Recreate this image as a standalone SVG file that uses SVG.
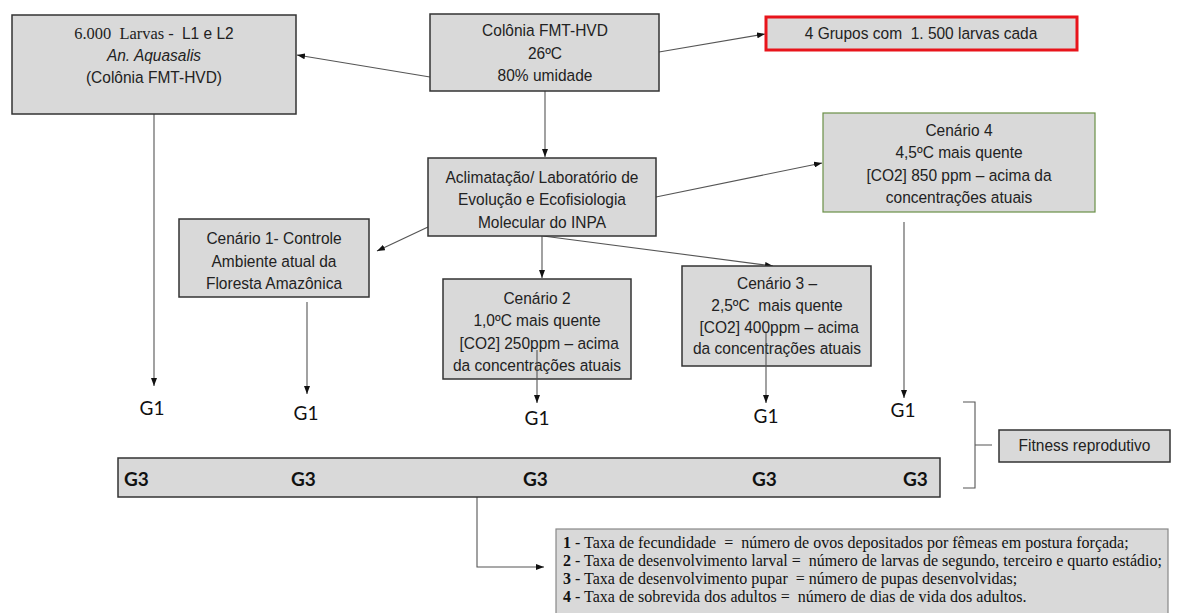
<svg xmlns="http://www.w3.org/2000/svg" width="1183" height="613" viewBox="0 0 1183 613">
<style>
text{white-space:pre}
.box{fill:#d9d9d9;stroke:#333;stroke-width:1.5}
.t{font-family:"Liberation Sans",Arial,sans-serif;font-size:16.5px;fill:#222;text-anchor:middle}
.g{font-family:Lato,"Open Sans",sans-serif;font-size:19px;fill:#111;text-anchor:middle}
.g3{font-family:Lato,"Open Sans",sans-serif;font-size:19px;font-weight:bold;fill:#111}
.c{fill:none;stroke:#555;stroke-width:1.1}
.leg{font-family:"Liberation Serif","Times New Roman",serif;font-size:16px;fill:#111}
</style>
<defs>
<marker id="ah" markerWidth="8" markerHeight="6" refX="8" refY="3" orient="auto" markerUnits="userSpaceOnUse">
<path d="M0,0 L8,3 L0,6 z" fill="#111"/>
</marker>
</defs>
<rect width="1183" height="613" fill="#fff"/>

<g id="connectors">
<line class="c" x1="430" y1="77" x2="297" y2="55" marker-end="url(#ah)"/>
<line class="c" x1="659" y1="52" x2="765" y2="34" marker-end="url(#ah)"/>
<line class="c" x1="545" y1="91" x2="545" y2="157" marker-end="url(#ah)"/>
<line class="c" x1="656" y1="197" x2="822" y2="163" marker-end="url(#ah)"/>
<line class="c" x1="543" y1="236" x2="773" y2="266" marker-end="url(#ah)"/>
<line class="c" x1="542" y1="236" x2="542" y2="278" marker-end="url(#ah)"/>
<line class="c" x1="428" y1="227" x2="377" y2="251" marker-end="url(#ah)"/>
<line class="c" x1="154" y1="114" x2="154" y2="386" marker-end="url(#ah)"/>
<line class="c" x1="307" y1="302" x2="307" y2="394" marker-end="url(#ah)"/>
<line class="c" x1="904" y1="222" x2="904" y2="398" marker-end="url(#ah)"/>
<path class="c" d="M477,497 V567 H544" marker-end="url(#ah)"/>
<path class="c" d="M963,402 H975 V488 H963 M975,445 H992"/>
</g>

<g id="larvas">
<rect class="box" x="12" y="15" width="284" height="99"/>
<g transform="translate(9.24,0) scale(0.94,1)">
<text class="t" x="154" y="39"><tspan font-family="Liberation Serif,serif" font-size="17.5px">6.000  Larvas -  </tspan>L1 e L2</text>
<text class="t" x="154" y="61" font-style="italic">An. Aquasalis</text>
<text class="t" x="154" y="83">(Colônia FMT-HVD)</text>
</g>
</g>

<g id="colonia">
<rect class="box" x="430" y="14" width="229" height="77"/>
<g transform="translate(32.7,0) scale(0.94,1)">
<text class="t" x="545" y="36">Colônia FMT-HVD</text>
<text class="t" x="545" y="59">26ºC</text>
<text class="t" x="545" y="81">80% umidade</text>
</g>
</g>

<g id="grupos">
<rect x="766" y="17" width="311" height="33" fill="#d9d9d9" stroke="#e8141b" stroke-width="3"/>
<g transform="translate(55.26,0) scale(0.94,1)">
<text class="t" x="921" y="39.5">4 Grupos com  1. 500 larvas cada</text>
</g>
</g>

<g id="aclimatacao">
<rect class="box" x="428" y="158" width="228" height="78"/>
<g transform="translate(32.52,0) scale(0.94,1)">
<text class="t" x="542" y="183">Aclimatação/ Laboratório de</text>
<text class="t" x="542" y="205.5">Evolução e Ecofisiologia</text>
<text class="t" x="542" y="228">Molecular do INPA</text>
</g>
</g>

<g id="cenario4">
<rect x="823" y="113" width="272" height="99" fill="#d9d9d9" stroke="#6a8f47" stroke-width="1.2"/>
<g transform="translate(57.54,0) scale(0.94,1)">
<text class="t" x="959" y="136">Cenário 4</text>
<text class="t" x="959" y="158.5">4,5ºC mais quente</text>
<text class="t" x="959" y="181">[CO2] 850 ppm – acima da</text>
<text class="t" x="959" y="203">concentrações atuais</text>
</g>
</g>

<g id="cenario1">
<rect class="box" x="179" y="219" width="190" height="78"/>
<g transform="translate(16.44,0) scale(0.94,1)">
<text class="t" x="274" y="244">Cenário 1- Controle</text>
<text class="t" x="274" y="267">Ambiente atual da</text>
<text class="t" x="274" y="289">Floresta Amazônica</text>
</g>
</g>

<g id="cenario2">
<rect class="box" x="443" y="279" width="188" height="100"/>
<g transform="translate(32.22,0) scale(0.94,1)">
<text class="t" x="537" y="304">Cenário 2</text>
<text class="t" x="537" y="326.5">1,0ºC mais quente</text>
<text class="t" x="537" y="349"> [CO2] 250ppm – acima</text>
<text class="t" x="537" y="371">da concentrações atuais</text>
</g>
</g>

<g id="cenario3">
<rect class="box" x="682" y="266" width="189" height="100"/>
<g transform="translate(46.62,0) scale(0.94,1)">
<text class="t" x="777" y="289">Cenário 3 –</text>
<text class="t" x="777" y="311">2,5ºC  mais quente</text>
<text class="t" x="777" y="333"> [CO2] 400ppm – acima</text>
<text class="t" x="777" y="354">da concentrações atuais</text>
</g>
</g>

<g id="connectors-over">
<line class="c" x1="537" y1="350" x2="537" y2="403" marker-end="url(#ah)"/>
<line class="c" x1="766" y1="333" x2="766" y2="403" marker-end="url(#ah)"/>
</g>

<g id="g1-labels">
<text class="g" x="152" y="415">G1</text>
<text class="g" x="306" y="420">G1</text>
<text class="g" x="537" y="425">G1</text>
<text class="g" x="766" y="423">G1</text>
<text class="g" x="903" y="417">G1</text>
</g>

<g id="g3-bar">
<rect class="box" x="118" y="458" width="822" height="39"/>
<text class="g3" x="124" y="486">G3</text>
<text class="g3" x="291" y="486">G3</text>
<text class="g3" x="523" y="486">G3</text>
<text class="g3" x="752" y="486">G3</text>
<text class="g3" x="903" y="486">G3</text>
</g>

<g id="fitness">
<rect class="box" x="999" y="430" width="171" height="32"/>
<g transform="translate(65.07,0) scale(0.94,1)">
<text class="t" x="1084.5" y="451.5">Fitness reprodutivo</text>
</g>
</g>

<g id="legend">
<rect x="556" y="529" width="612" height="95" fill="#d9d9d9" stroke="#888" stroke-width="1.2"/>
<text class="leg" x="563" y="548"><tspan font-weight="bold">1</tspan> - Taxa de fecundidade  =  número de ovos depositados por fêmeas em postura forçada;</text>
<text class="leg" x="563" y="566"><tspan font-weight="bold">2</tspan> - Taxa de desenvolvimento larval =  número de larvas de segundo, terceiro e quarto estádio;</text>
<text class="leg" x="563" y="584"><tspan font-weight="bold">3</tspan> - Taxa de desenvolvimento pupar  = número de pupas desenvolvidas;</text>
<text class="leg" x="563" y="602"><tspan font-weight="bold">4</tspan> - Taxa de sobrevida dos adultos =  número de dias de vida dos adultos.</text>
</g>
</svg>
